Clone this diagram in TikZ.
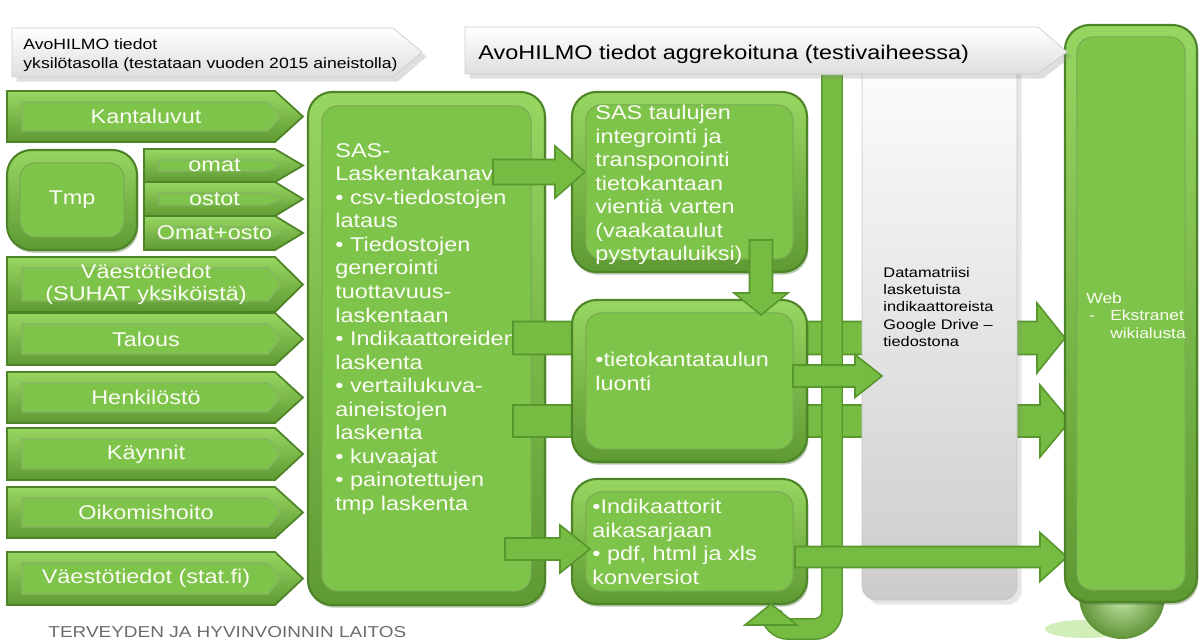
\documentclass[tikz,border=0pt]{standalone}
\usepackage{fontspec}
\setmainfont{Liberation Sans}
\usetikzlibrary{calc,fit,shadows}

\definecolor{gMid}{RGB}{127,196,74}
\definecolor{gLight}{RGB}{152,214,98}
\definecolor{gDeep}{RGB}{94,154,50}
\definecolor{gEdge}{RGB}{78,132,40}
\definecolor{gArrow}{RGB}{118,187,66}
\definecolor{gArrowEdge}{RGB}{88,150,46}
\definecolor{txtWhite}{RGB}{250,252,244}

\tikzset{
  gbox/.style={draw=gEdge, line width=1.2pt, rounded corners=14pt, top color=gLight, bottom color=gDeep, inner sep=0pt,
    drop shadow={opacity=0.35, shadow xshift=0.8pt, shadow yshift=-1.5pt, fill=gEdge!70!black}},
  ginner/.style={draw=gDeep!85, line width=0.6pt, fill=gMid, rounded corners=9pt},
  srcouter/.style={draw=gEdge, line width=1pt, top color=gLight, bottom color=gDeep},
  srcinner/.style={draw=gDeep!75, line width=0.6pt, fill=gMid},
  barrow/.style={draw=gArrowEdge, line width=0.9pt, fill=gArrow},
  greybox/.style={draw=gray!45, rounded corners=8pt, top color=white, bottom color=black!20, inner sep=0pt, drop shadow={opacity=0.2}},
  headshape/.style={draw=gray!40, top color=white, bottom color=black!13, drop shadow={opacity=0.25}},
  boxtext/.style={anchor=north west, inner sep=0pt, align=left, xscale=1.18, text=txtWhite, font=\fontsize{11.3}{13.4}\selectfont},
  srclabel/.style={inner sep=0pt, align=center, xscale=1.18, text=txtWhite, font=\fontsize{11.3}{12.6}\selectfont},
  smalltext/.style={anchor=north west, inner sep=0pt, align=left, xscale=1.18, font=\fontsize{7.9}{9.8}\selectfont}
}

% input arrow: name, x left, y top, y bottom, label
\newcommand{\srcarrow}[5]{%
  \draw[srcouter] (#2,#3) -- (275,#3) -- (303,{(#3+#4)/2}) -- (275,#4) -- (#2,#4) -- cycle;
  \draw[srcinner] (#2+15,#3+11) -- (268,#3+11) -- (281,{(#3+#4)/2}) -- (268,#4-11) -- (#2+15,#4-11) -- cycle;
  \node[srclabel] (#1) at ({(#2+285)/2},{(#3+#4)/2}) {#5};
}
% block arrow to the right: tail, tip, half shaft, half head, head length
\newcommand{\harrow}[5]{%
  \draw[barrow] ($(#1)+(0,-#3)$) -- ($(#2)+(-#5,-#3)$) -- ($(#2)+(-#5,-#4)$) -- (#2)
    -- ($(#2)+(-#5,#4)$) -- ($(#2)+(-#5,#3)$) -- ($(#1)+(0,#3)$) -- cycle;
}
% block arrow downwards
\newcommand{\varrow}[5]{%
  \draw[barrow] ($(#1)+(-#3,0)$) -- ($(#2)+(-#3,-#5)$) -- ($(#2)+(-#4,-#5)$) -- (#2)
    -- ($(#2)+(#4,-#5)$) -- ($(#2)+(#3,-#5)$) -- ($(#1)+(#3,0)$) -- cycle;
}

\begin{document}
\begin{tikzpicture}[x=0.02cm, y=-0.02cm]
  \useasboundingbox (0,0) rectangle (1199,641);

  % Input data
  \srcarrow{kanta}{7}{91}{142}{Kantaluvut}
  \node[gbox, fit={(7,150) (137,250)}] (tmpbox) {};
  \draw[ginner] ([shift={(14,14)}]tmpbox.north west) rectangle ([shift={(-14,-14)}]tmpbox.south east);
  \node[srclabel] (tmp) at (tmpbox.center) {Tmp};
  \srcarrow{omat}{144}{149}{182}{omat}
  \srcarrow{ostot}{144}{182}{216}{ostot}
  \srcarrow{omatosto}{144}{216}{250}{Omat+osto}
  \srcarrow{vaesto}{7}{257}{312}{Väestötiedot\\(SUHAT yksiköistä)}
  \srcarrow{talous}{7}{313}{365}{Talous}
  \srcarrow{henk}{7}{372}{423}{Henkilöstö}
  \srcarrow{kaynnit}{7}{428}{480}{Käynnit}
  \srcarrow{oiko}{7}{487}{538}{Oikomishoito}
  \srcarrow{statfi}{7}{552}{605}{Väestötiedot (stat.fi)}

  % SAS box
  \node[gbox, fit={(308,92) (545,605)}] (sas) {};
  \draw[ginner] ([shift={(15,15)}]sas.north west) rectangle ([shift={(-15,-15)}]sas.south east);
  \node[boxtext] (sastxt) at (335,143) {SAS-\\Laskentakanava\\• csv-tiedostojen\\lataus\\• Tiedostojen\\generointi\\tuottavuus-\\laskentaan\\• Indikaattoreiden\\laskenta\\• vertailukuva-\\aineistojen\\laskenta\\• kuvaajat\\• painotettujen\\tmp laskenta};

  % long arrows to web
  \coordinate (sasA) at (513,338);
  \coordinate (webA) at (1065,338);
  \coordinate (sasB) at (513,421);
  \coordinate (webB) at (1070,421);
  \harrow{sasA}{webA}{16.5}{35}{28}
  \harrow{sasB}{webB}{16}{36}{30}

  % result boxes
  \node[gbox, fit={(572,92) (807,272)}] (integ) {};
  \draw[ginner] ([shift={(15,14)}]integ.north west) rectangle ([shift={(-15,-14)}]integ.south east);
  \node[boxtext] (integtxt) at (595,105) {SAS taulujen\\integrointi ja\\transponointi\\tietokantaan\\vientiä varten\\(vaakataulut\\pystytauluiksi)};

  \node[gbox, fit={(572,300) (807,462)}] (luonti) {};
  \draw[ginner] ([shift={(15,14)}]luonti.north west) rectangle ([shift={(-15,-14)}]luonti.south east);
  \node[boxtext] (luontitxt) at (595,352) {•tietokantataulun\\luonti};

  \node[gbox, fit={(572,479) (807,604)}] (indik) {};
  \draw[ginner] ([shift={(15,14)}]indik.north west) rectangle ([shift={(-15,-14)}]indik.south east);
  \node[boxtext] (indiktxt) at (592,499) {•Indikaattorit\\aikasarjaan\\• pdf, html ja xls\\konversiot};

  % vertical bar with U-turn
  \coordinate (bartop) at (832,75);
  \coordinate (uturn) at (771,604);
  \draw[gArrowEdge, line width=12.5pt, rounded corners=10pt] (bartop) -- (832,629) -- (771,629) -- (771,620);
  \draw[gArrow, line width=10.8pt, rounded corners=10pt] (bartop) -- (832,629) -- (771,629) -- (771,620);
  \draw[barrow] (uturn) -- ($(uturn)+(26,21)$) -- ($(uturn)+(-26,21)$) -- cycle;

  % Datamatriisi
  \node[greybox, fit={(862,34) (1017,600)}] (datamat) {};
  \node[smalltext] (datatxt) at (883,267) {Datamatriisi\\lasketuista\\indikaattoreista\\Google Drive –\\tiedostona};

  % short arrows
  \coordinate (sasC) at (493,172);
  \coordinate (integC) at (585,172);
  \harrow{sasC}{integC}{12.5}{26}{30}
  \coordinate (sasD) at (505,549);
  \coordinate (indikD) at (590,549);
  \harrow{sasD}{indikD}{11}{24}{30}
  \coordinate (integE) at (761,240);
  \coordinate (luontiE) at (761,315);
  \varrow{integE}{luontiE}{11.5}{27}{22}
  \coordinate (luontiF) at (793,376);
  \coordinate (dataF) at (882,376);
  \harrow{luontiF}{dataF}{11}{21.5}{27}
  \coordinate (indikG) at (795,557);
  \coordinate (webG) at (1067,557);
  \harrow{indikG}{webG}{10.5}{24.5}{27}

  % Web
  \fill[gLight, opacity=0.45] (1085,629) ellipse [x radius=40, y radius=9];
  \shade[inner color=gLight!55!white, outer color=gMid!75!black] (1122,596) circle [radius=43];
  \node[gbox, fit={(1065,25) (1197,602)}] (web) {};
  \draw[ginner] ([shift={(13,13)}]web.north west) rectangle ([shift={(-13,-13)}]web.south east);
  \node[smalltext, text=txtWhite, font=\fontsize{8.4}{10.2}\selectfont] (webtxt) at (1086,292) {Web\\\hspace*{0.17em}-\hspace{0.87em}Ekstranet\\\hspace*{1.37em}wikialusta};

  % Headers
  \draw[headshape] (12,28) -- (393,28) -- (422,52) -- (393,77) -- (12,77) -- cycle;
  \node[smalltext, font=\fontsize{8.5}{10.8}\selectfont] (head1) at (23,38) {AvoHILMO tiedot\\yksilötasolla (testataan vuoden 2015 aineistolla)};
  \draw[headshape] (465,27) -- (1038,27) -- (1067,52) -- (1038,74) -- (465,74) -- cycle;
  \node[smalltext, font=\fontsize{11.3}{13.4}\selectfont] (head2) at (478,45) {AvoHILMO tiedot aggrekoituna (testivaiheessa)};

  % Footer
  \node[anchor=base west, inner sep=0pt, xscale=1.2, text=black!58, font=\fontsize{9}{10}\selectfont] (thl) at (48,637) {TERVEYDEN JA HYVINVOINNIN LAITOS};
\end{tikzpicture}
\end{document}
